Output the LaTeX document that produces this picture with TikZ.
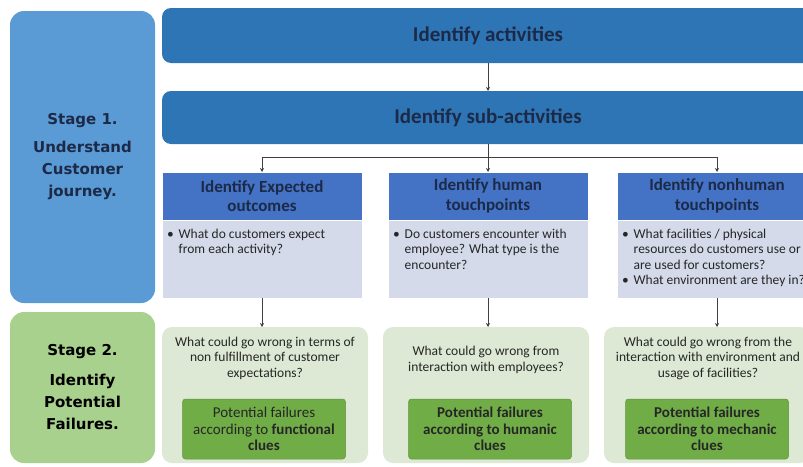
\documentclass[tikz,border=0pt]{standalone}
\usepackage{fontspec}
\setmainfont{Carlito}
\newfontfamily\stagefont{DejaVu Sans}
\usetikzlibrary{arrows.meta,positioning}
\definecolor{stageblue}{HTML}{5B9BD5}
\definecolor{stagegreen}{HTML}{A9D18E}
\definecolor{barblue}{HTML}{2E75B6}
\definecolor{headblue}{HTML}{4472C4}
\definecolor{bodyblue}{HTML}{D5DAEA}
\definecolor{palegreen}{HTML}{DDE9D4}
\definecolor{failgreen}{HTML}{70AD47}
\definecolor{inkblue}{HTML}{1C2A48}
\definecolor{ink}{HTML}{262626}
\definecolor{linegray}{HTML}{404040}
\newcommand\bitem{\textbullet\hspace{5pt}}
\newcommand\bcont{\phantom{\textbullet}\hspace{5pt}}

\begin{document}
\begin{tikzpicture}[x=1pt,y=-1pt, every node/.style={align=center,inner sep=0pt,outer sep=0pt}, stagebox/.style={rounded corners=14pt,minimum width=145pt,font=\stagefont\bfseries\fontsize{15}{22}\selectfont}, barbox/.style={fill=barblue,rounded corners=9pt,minimum width=652pt,text=inkblue,font=\bfseries\fontsize{21}{24}\selectfont}, headbox/.style={fill=headblue,draw=white,line width=0.6pt,minimum width=200pt,minimum height=48pt,text=inkblue,font=\bfseries\fontsize{17}{19.5}\selectfont}, bodybox/.style={fill=bodyblue,draw=white,line width=0.6pt,minimum width=200pt,minimum height=78pt}, btext/.style={align=left,text=ink,font=\fontsize{13.5}{15.5}\selectfont}, qbox/.style={fill=palegreen,rounded corners=10pt,minimum width=206pt,minimum height=136pt}, qtext/.style={text=ink,font=\fontsize{13.5}{15.5}\selectfont}, failbox/.style={fill=failgreen,draw=failgreen!85!black,line width=0.5pt,rounded corners=3pt,minimum width=163pt,minimum height=60pt,text=ink,font=\fontsize{15}{16.5}\selectfont}, arr/.style={-{Stealth[length=4pt,width=4pt]},line width=0.6pt,draw=linegray}]
  \useasboundingbox (0,0) rectangle (803,466);
  \clip (0,0) rectangle (803,466);

  \node[stagebox,fill=stageblue,minimum height=292pt,text=inkblue] (stage1) at (82.5,157) {Stage 1.\\[6pt]Understand\\Customer\\journey.};
  \node[stagebox,fill=stagegreen,minimum height=151pt,text=black] (stage2) at (82.5,387.5) {Stage 2.\\[8pt]Identify\\Potential\\Failures.};

  \node[barbox,minimum height=55pt] (act) at (488,35.5) {Identify activities};
  \node[barbox,minimum height=53pt] (sub) at (488,117.5) {Identify sub-activities};

  \node[headbox] (expect) at (262,196) {Identify Expected\\outcomes};
  \node[bodybox,below=0pt of expect] (expectbody) {};
  \node[headbox] (human) at (488,196) {Identify human\\touchpoints};
  \node[bodybox,below=0pt of human] (humanbody) {};
  \node[headbox] (nonhuman) at (717,196) {Identify nonhuman\\touchpoints};
  \node[bodybox,below=0pt of nonhuman] (nonhumanbody) {};

  \node[btext,anchor=north west] (expecttxt) at (167,229) {\bitem What do customers expect\\\bcont from each activity?};
  \node[btext,anchor=north west] (humantxt) at (393,229) {\bitem Do customers encounter with\\\bcont employee? What type is the\\\bcont encounter?};
  \node[btext,anchor=north west] (nonhumantxt) at (622,229) {\bitem What facilities / physical\\\bcont resources do customers use or\\\bcont are used for customers?\\\bitem What environment are they in?};

  \node[qbox] (expectq) at (265,395) {};
  \node[qbox] (humanq) at (486,395) {};
  \node[qbox] (nonhumanq) at (707,395) {};
  \node[qtext] (expectqtxt) at (265,358) {What could go wrong in terms of\\non fulfillment of customer\\expectations?};
  \node[qtext] (humanqtxt) at (486,360) {What could go wrong from\\interaction with employees?};
  \node[qtext] (nonhumanqtxt) at (708,358) {What could go wrong from the\\interaction with environment and\\usage of facilities?};

  \node[failbox] (functional) at (264,429) {Potential failures\\according to \textbf{functional}\\\textbf{clues}};
  \node[failbox,font=\bfseries\fontsize{15}{16.5}\selectfont] (humanic) at (490,429) {Potential failures\\according to humanic\\clues};
  \node[failbox,font=\bfseries\fontsize{15}{16.5}\selectfont] (mechanic) at (707,429) {Potential failures\\according to mechanic\\clues};

  \coordinate (fork) at (488,157);
  \draw[arr] (act) -- (sub);
  \draw[arr] (sub) -- (human);
  \draw[arr] (fork) -| (expect);
  \draw[arr] (fork) -| (nonhuman);
  \draw[arr] (expectbody.south) -- (expectbody.south |- expectq.north);
  \draw[arr] (humanbody.south) -- (humanbody.south |- humanq.north);
  \draw[arr] (nonhumanbody.south) -- (nonhumanbody.south |- nonhumanq.north);
\end{tikzpicture}
\end{document}
